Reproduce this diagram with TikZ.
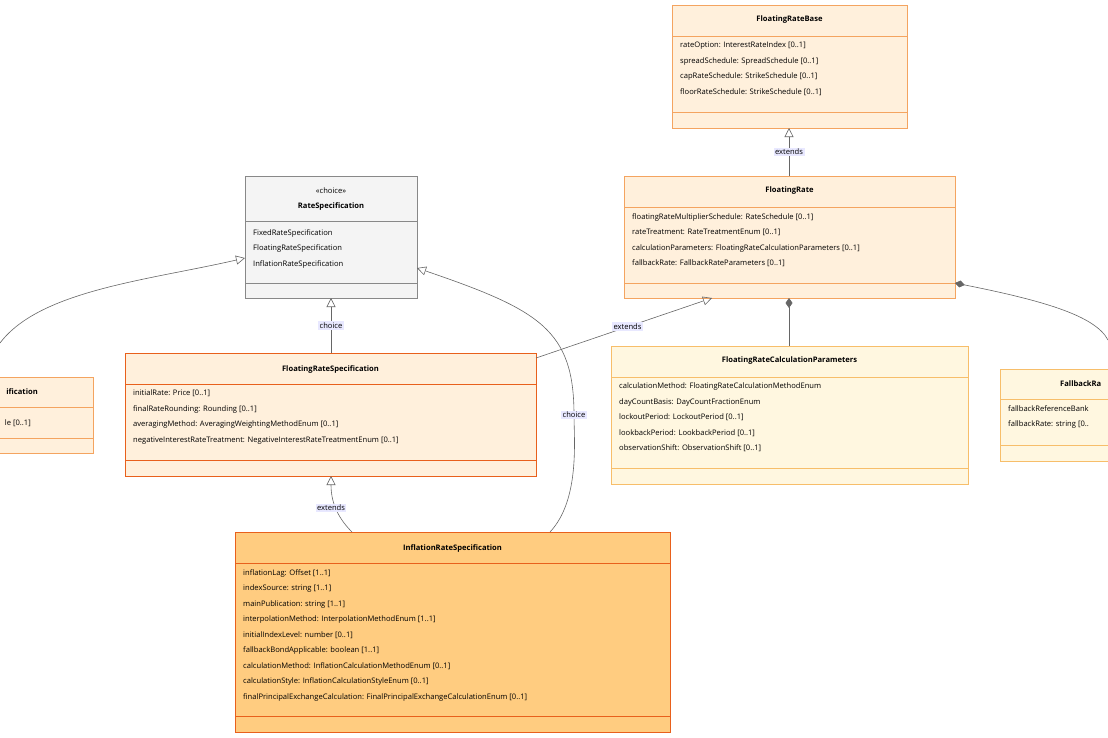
\documentclass[tikz,border=0pt]{standalone}
\usepackage{fontspec}
\setmainfont{Open Sans}
\usetikzlibrary{arrows.meta}
\definecolor{bfill}{HTML}{FFF0DC}
\definecolor{bdraw}{HTML}{F4A460}
\definecolor{sdraw}{HTML}{E8601C}
\definecolor{gfill}{HTML}{F4F4F4}
\definecolor{gdraw}{HTML}{888888}
\definecolor{yfill}{HTML}{FFF7E0}
\definecolor{ydraw}{HTML}{F7BE6A}
\definecolor{ifill}{HTML}{FFCC80}
\definecolor{lfill}{HTML}{E8E8FF}
\tikzset{
 x=1pt,y=-1pt,
 ttl/.style={font=\fontsize{7.6}{9}\selectfont\bfseries,inner sep=0},
 att/.style={font=\fontsize{7.6}{15.5}\selectfont,inner sep=0,anchor=north west,align=left},
 lbl/.style={font=\fontsize{7.6}{9}\selectfont,fill=lfill,inner sep=1.5pt},
 ln/.style={draw=gray!80!black,line width=0.6pt},
 ext/.style={ln,-{Triangle[open,length=9pt,width=9pt]}},
 comp/.style={ln,{Diamond[length=10pt,width=7pt]}-},
}
\newcommand{\umlbox}[9]{% name, x1,y1,x2,y2, ytitle-end, yattr-end, fill, draw
 \fill[#8] (#2,#3) rectangle (#4,#5);
 \draw[#9,line width=0.8pt] (#2,#3) rectangle (#4,#5);
 \draw[#9,line width=0.8pt] (#2,#6) -- (#4,#6) (#2,#7) -- (#4,#7);
 \coordinate (#1-nw) at (#2,#6);
}
\begin{document}
\begin{tikzpicture}
\useasboundingbox (0,0) rectangle (1108,737);
\begin{scope}
\clip (0,0) rectangle (1108,737);
% boxes
\umlbox{frb}{672}{5}{907}{128}{36}{112}{bfill}{bdraw}
\node[ttl] (frbT) at (789.5,20) {FloatingRateBase};
\node[att] (frbA) at (680,42) {rateOption: InterestRateIndex [0..1]\\spreadSchedule: SpreadSchedule [0..1]\\capRateSchedule: StrikeSchedule [0..1]\\floorRateSchedule: StrikeSchedule [0..1]};
\coordinate (frbB) at (789,128);

\umlbox{fr}{624}{176}{955}{298}{207}{283}{bfill}{bdraw}
\node[ttl] (frT) at (789.5,191) {FloatingRate};
\node[att] (frA) at (632,213) {floatingRateMultiplierSchedule: RateSchedule [0..1]\\rateTreatment: RateTreatmentEnum [0..1]\\calculationParameters: FloatingRateCalculationParameters [0..1]\\fallbackRate: FallbackRateParameters [0..1]};
\coordinate (frTop) at (789,176);
\coordinate (frB) at (789,298);
\coordinate (frBL) at (712,298);
\coordinate (frR) at (955,283);

\umlbox{rs}{245}{176}{417}{298}{221}{283}{gfill}{gdraw}
\node[font=\fontsize{7.6}{9}\selectfont,inner sep=0] (rsS) at (331,191) {«choice»};
\node[ttl] (rsT) at (331,207) {RateSpecification};
\node[att] (rsA) at (253,229) {FixedRateSpecification\\FloatingRateSpecification\\InflationRateSpecification};
\coordinate (rsB) at (331,298);
\coordinate (rsR) at (417,268);
\coordinate (rsL) at (245,258);

\umlbox{frs}{125}{353}{536}{476}{384}{460}{bfill}{sdraw}
\node[ttl] (frsT) at (330.5,369) {FloatingRateSpecification};
\node[att] (frsA) at (133,390) {initialRate: Price [0..1]\\finalRateRounding: Rounding [0..1]\\averagingMethod: AveragingWeightingMethodEnum [0..1]\\negativeInterestRateTreatment: NegativeInterestRateTreatmentEnum [0..1]};
\coordinate (frsT0) at (331,353);
\coordinate (frsB) at (331,476);
\coordinate (frsR) at (536,358);

\umlbox{lp}{-20}{377}{93}{453}{407}{438}{bfill}{bdraw}
\node[ttl,anchor=east] (lpT) at (38,392) {ification};
\node[font=\fontsize{7.6}{9}\selectfont,inner sep=0,anchor=east] (lpA) at (31,423) {le [0..1]};
\coordinate (lpE) at (0,343);

\umlbox{fcp}{611}{346}{968}{484}{377}{468}{yfill}{ydraw}
\node[ttl] (fcpT) at (789.5,361) {FloatingRateCalculationParameters};
\node[att] (fcpA) at (619,383) {calculationMethod: FloatingRateCalculationMethodEnum\\dayCountBasis: DayCountFractionEnum\\lockoutPeriod: LockoutPeriod [0..1]\\lookbackPeriod: LookbackPeriod [0..1]\\observationShift: ObservationShift [0..1]};
\coordinate (fcpT0) at (789,346);

\umlbox{fb}{1000}{369}{1130}{461}{399}{445}{yfill}{ydraw}
\node[ttl,anchor=west] (fbT) at (1060,384) {FallbackRa};
\node[att] (fbA) at (1008,405) {fallbackReferenceBank\\fallbackRate: string [0..};
\coordinate (fbE) at (1108,340);

\umlbox{irs}{235}{532}{670}{732}{563}{716}{ifill}{sdraw}
\node[ttl] (irsT) at (452.5,548) {InflationRateSpecification};
\node[att] (irsA) at (243,569) {inflationLag: Offset [1..1]\\indexSource: string [1..1]\\mainPublication: string [1..1]\\interpolationMethod: InterpolationMethodEnum [1..1]\\initialIndexLevel: number [0..1]\\fallbackBondApplicable: boolean [1..1]\\calculationMethod: InflationCalculationMethodEnum [0..1]\\calculationStyle: InflationCalculationStyleEnum [0..1]\\finalPrincipalExchangeCalculation: FinalPrincipalExchangeCalculationEnum [0..1]};
\coordinate (irsT1) at (352,532);
\coordinate (irsT2) at (550,532);

% connectors
\draw[ext] (frTop) -- node[lbl] {extends} (frbB);
\draw[ext] (frsR) -- node[lbl,pos=0.52] {extends} (frBL);
\draw[ext] (frsT0) -- node[lbl] {choice} (rsB);
\draw[ext] (irsT1) .. controls (340,520) and (331,505) .. (frsB);
\node[lbl] (l4) at (331,508) {extends};
\draw[ext] (irsT2) .. controls (580,500) and (574,440) .. (574,415) .. controls (574,330) and (540,310) .. (rsR);
\node[lbl] (l5) at (574,415) {choice};
\draw[ext] (lpE) .. controls (40,290) and (150,280) .. (rsL);
\draw[comp] (frB) -- (fcpT0);
\draw[comp] (frR) .. controls (1040,300) and (1095,315) .. (fbE);
\end{scope}
\end{tikzpicture}
\end{document}
